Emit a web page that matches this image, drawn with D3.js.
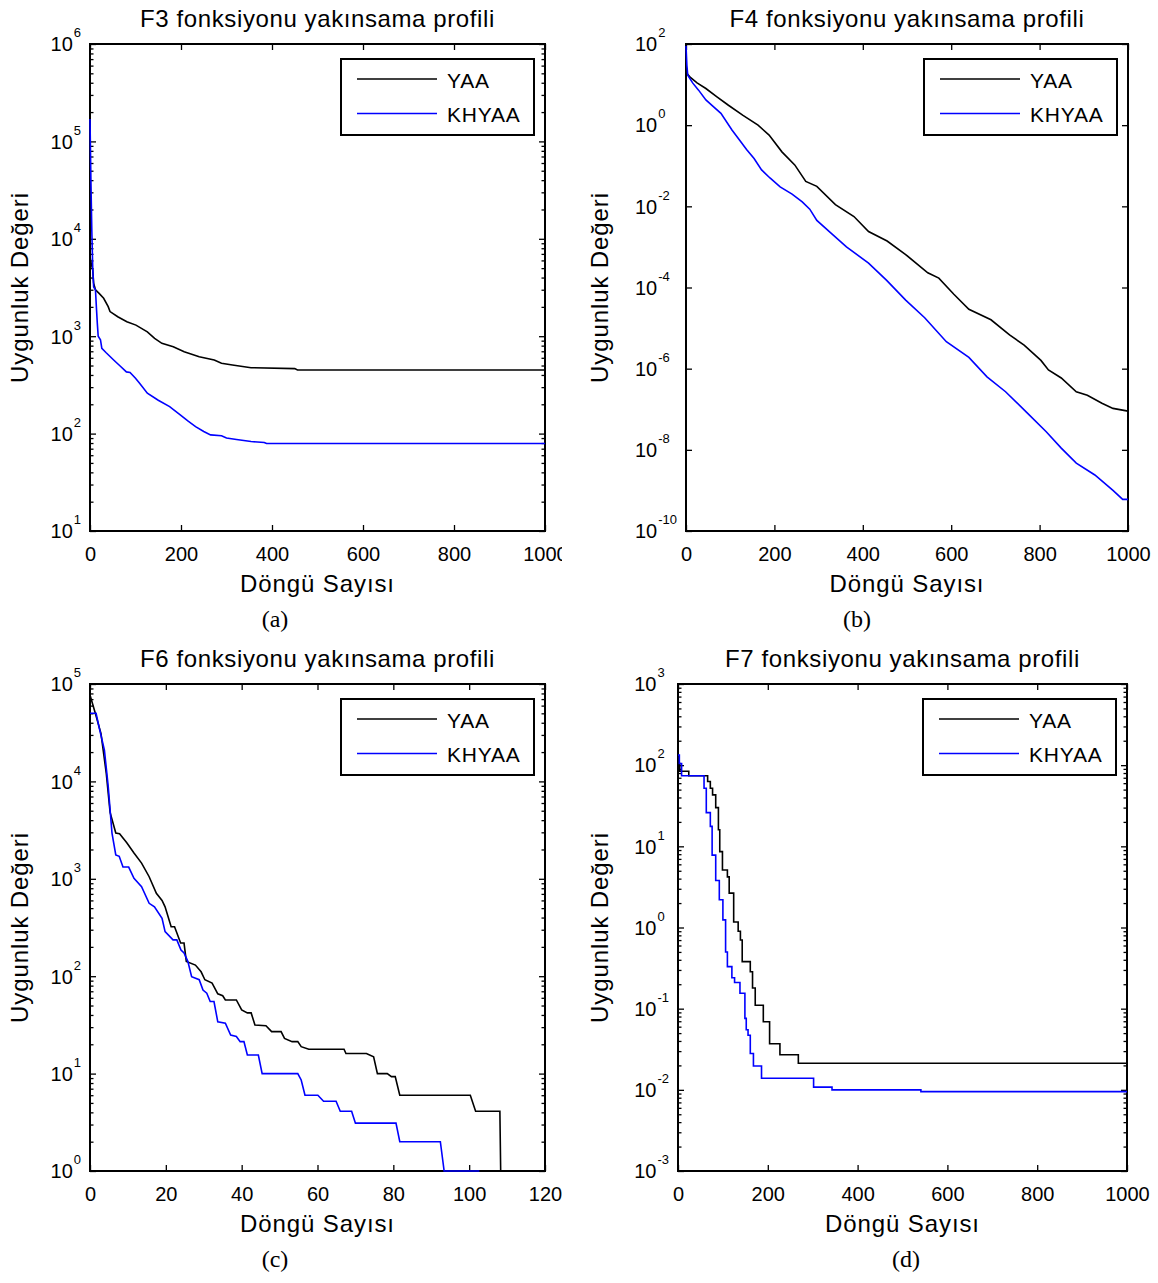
<!DOCTYPE html>
<html>
<head>
<meta charset="utf-8">
<script src="https://cdn.jsdelivr.net/npm/d3@7"></script>
<style>
  html, body { margin: 0; padding: 0; background: #fff; }
  svg { display: block; }
  text { font-family: "Liberation Sans", Arial, Helvetica, sans-serif; fill: #000; }
</style>
</head>
<body>
<svg id="chart" width="1158" height="1283"></svg>
<script>
// Convergence profiles: best fitness value per iteration for YAA and KHYAA

const seriesNames = ["YAA", "KHYAA"];
const seriesColors = ["#000000", "#0000ff"];

// x tick values
const iterTicks = [0, 200, 400, 600, 800, 1000];
const iterTicksF6 = [0, 20, 40, 60, 80, 100, 120];

// y tick exponents (labels are 10^e)
const f3Exps = [1, 2, 3, 4, 5, 6];
const f4Exps = [-10, -8, -6, -4, -2, 0, 2];
const f6Exps = [0, 1, 2, 3, 4, 5];
const f7Exps = [-3, -2, -1, 0, 1, 2, 3];

// F3: [iteration, fitness]
const f3Yaa = [[0, 6500], [3, 5500], [6, 4800], [8, 3500], [12, 3000], [20, 2750], [30, 2450],
  [40, 2010], [44, 1790], [61, 1585], [81, 1410], [101, 1300], [126, 1110], [142, 950],
  [158, 845], [183, 780], [207, 693], [240, 616], [273, 570], [289, 527], [313, 506],
  [354, 475], [450, 465], [456, 450], [1000, 450]];
const f3Khyaa = [[0, 170000], [2, 40000], [4, 12000], [6, 5000], [8, 3200], [12, 3000], [14, 2000],
  [16, 1370], [18, 1000], [23, 920], [26, 750], [35, 680], [52, 570], [65, 500], [80, 430],
  [88, 425], [100, 370], [109, 328], [126, 260], [150, 220], [175, 189], [199, 155], [215, 135],
  [232, 118], [250, 105], [265, 97], [289, 95], [300, 90], [322, 87], [354, 83], [383, 81],
  [388, 79], [1000, 79]];

// F4
const f4Yaa = [[0, 20], [10, 15], [25, 11], [45, 8], [70, 5], [96, 3.1], [129, 1.74], [163, 1.0],
  [188, 0.57], [217, 0.22], [246, 0.105], [271, 0.041], [296, 0.031], [338, 0.011], [380, 0.0056],
  [413, 0.0024], [455, 0.0014], [497, 6.5e-4], [547, 2.3e-4], [572, 1.7e-4], [606, 6.8e-5],
  [640, 2.9e-5], [690, 1.6e-5], [732, 6.8e-6], [765, 3.8e-6], [803, 1.6e-6], [820, 9.3e-7],
  [849, 5.9e-7], [883, 2.7e-7], [908, 2.2e-7], [941, 1.4e-7], [966, 1.05e-7], [1000, 9e-8]];
const f4Khyaa = [[0, 90], [2, 30], [4, 17], [15, 11], [28, 7.4], [45, 4.2], [60, 3.0], [79, 1.96],
  [104, 0.76], [121, 0.43], [137, 0.25], [154, 0.15], [171, 0.079], [190, 0.05], [213, 0.03],
  [240, 0.02], [263, 0.0129], [280, 0.0085], [296, 0.0045], [330, 0.0021], [363, 0.001],
  [413, 4e-4], [454, 1.5e-4], [497, 4.9e-5], [540, 1.8e-5], [589, 4.6e-6], [640, 1.9e-6],
  [681, 6.3e-7], [723, 2.7e-7], [773, 7.9e-8], [815, 2.8e-8], [849, 1.1e-8], [883, 4.7e-9],
  [925, 2.4e-9], [966, 1.0e-9], [988, 6.0e-10], [1000, 6.0e-10]];

// F6
const f6Yaa = [[0, 77000], [1.4, 50000], [2.9, 31000], [4.3, 12000], [5.3, 4800], [6.8, 2950],
  [7.8, 2900], [9.7, 2340], [11.6, 1840], [13.6, 1450], [15.6, 1050], [17.5, 710], [19, 600],
  [19.8, 515], [21.4, 322], [22.3, 322], [23.9, 219], [24.8, 219], [25.4, 142], [27.8, 130],
  [29.3, 111], [30.3, 92], [32.2, 85], [33.7, 66], [35, 63], [35.7, 57], [38.6, 57], [40, 45],
  [41.5, 42], [42.5, 42], [43.5, 31.6], [46.4, 31], [47.9, 27], [50.4, 27], [51.3, 23],
  [53.3, 21.3], [54.8, 21.3], [55.7, 18.9], [57.7, 17.8], [67, 17.8], [67.5, 16.1], [72.9, 16.1],
  [74.8, 14.9], [75.8, 10], [78.4, 10], [79.5, 9.3], [80.5, 9.3], [81.7, 6.0], [100.3, 6.0],
  [101.7, 4.1], [108.1, 4.1], [109, 0.01]];
const f6Khyaa = [[0, 50000], [1.6, 50000], [2.4, 36000], [3.8, 21000], [4.8, 8900], [5.8, 2950],
  [6.8, 1760], [7.7, 1700], [8.7, 1320], [10.2, 1320], [11.6, 1010], [13.6, 830], [15.6, 560],
  [17, 515], [19, 393], [19.8, 287], [21.9, 236], [22.9, 236], [24, 186], [24.8, 173],
  [25.8, 142], [26.8, 99], [28.8, 92], [29.8, 72], [30.8, 67], [31.7, 55], [32.7, 55], [33.7, 34],
  [35.7, 33], [37.1, 24.9], [38.6, 24], [39.6, 21.3], [40.6, 21.3], [41.5, 15.5], [44.4, 15.5],
  [45.4, 10], [54.8, 10], [55.7, 8.6], [56.7, 6.0], [60.1, 6.0], [61.6, 5.2], [64.9, 5.2],
  [66, 4.1], [69, 4.1], [70, 3.1], [80.7, 3.1], [81.7, 2.0], [92.4, 2.0], [93.4, 1.0], [102.7, 1.0]];

// F7 (value holds until the next listed iteration)
const f7Yaa = [[0, 105], [4, 84], [24, 74], [66, 63], [72, 52], [77, 43], [84, 30], [90, 16],
  [93, 8.6], [99, 5.1], [110, 4.2], [114, 2.65], [124, 1.17], [134, 0.9], [139, 0.70],
  [143, 0.38], [161, 0.285], [166, 0.18], [172, 0.11], [190, 0.069], [204, 0.037], [227, 0.027],
  [268, 0.0213], [1000, 0.0213]];
const f7Khyaa = [[0, 133], [3, 105], [8, 74], [58, 52], [63, 26], [72, 17.6], [76, 7.8], [84, 3.8],
  [92, 2.2], [100, 1.24], [106, 0.5], [110, 0.33], [120, 0.24], [126, 0.21], [138, 0.155],
  [149, 0.076], [152, 0.055], [156, 0.047], [161, 0.028], [168, 0.0197], [186, 0.0139],
  [302, 0.0108], [343, 0.0100], [541, 0.0095], [1000, 0.0095]];

const panels = [
  { key: "a", title: "F3 fonksiyonu yakınsama profili", caption: "(a)",
    series: [f3Yaa, f3Khyaa], xTicks: iterTicks, yExps: f3Exps, minor: true, step: false },
  { key: "b", title: "F4 fonksiyonu yakınsama profili", caption: "(b)",
    series: [f4Yaa, f4Khyaa], xTicks: iterTicks, yExps: f4Exps, minor: false, step: false },
  { key: "c", title: "F6 fonksiyonu yakınsama profili", caption: "(c)",
    series: [f6Yaa, f6Khyaa], xTicks: iterTicksF6, yExps: f6Exps, minor: true, step: false },
  { key: "d", title: "F7 fonksiyonu yakınsama profili", caption: "(d)",
    series: [f7Yaa, f7Khyaa], xTicks: iterTicks, yExps: f7Exps, minor: true, step: true }
];

// panel frames (plot box in page pixels) and label placement
const frames = {
  a: { l: 90,  t: 44,  r: 545,  b: 531,  capX: 275, yLabX: 28,  clipR: 562 },
  b: { l: 686, t: 44,  r: 1128, b: 531,  capX: 857, yLabX: 608, clipR: 1158 },
  c: { l: 90,  t: 684, r: 545,  b: 1171, capX: 275, yLabX: 28,  clipR: 580 },
  d: { l: 678, t: 684, r: 1127, b: 1171, capX: 906, yLabX: 608, clipR: 1158 }
};

const svg = d3.select("#chart");
svg.append("rect").attr("width", 1158).attr("height", 1283).attr("fill", "#fff");
const defs = svg.append("defs");

const TICK_FONT = 20, EXP_FONT = 13;

panels.forEach(p => {
  const f = frames[p.key];
  const panelClip = "panel-" + p.key;
  defs.append("clipPath").attr("id", panelClip)
    .append("rect").attr("x", f.l - 100).attr("y", f.t - 60)
    .attr("width", f.clipR - (f.l - 100)).attr("height", f.b - f.t + 170);

  const g = svg.append("g").attr("clip-path", `url(#${panelClip})`);

  const x = d3.scaleLinear().domain([0, d3.max(p.xTicks)]).range([f.l, f.r]);
  const yMin = d3.min(p.yExps), yMax = d3.max(p.yExps);
  const y = d3.scaleLog().domain([Math.pow(10, yMin), Math.pow(10, yMax)]).range([f.b, f.t]);

  const majorY = p.yExps.map(e => Math.pow(10, e));
  const minorY = [];
  if (p.minor) {
    for (let e = yMin; e < yMax; e++) {
      for (let k = 2; k <= 9; k++) minorY.push(k * Math.pow(10, e));
    }
  }

  // bottom axis with labels
  const xb = g.append("g").attr("transform", `translate(0,${f.b})`)
    .call(d3.axisBottom(x).tickValues(p.xTicks).tickFormat(d3.format("d"))
      .tickSizeInner(-6).tickSizeOuter(0).tickPadding(16));
  xb.selectAll("text").attr("font-size", TICK_FONT);
  // top axis ticks
  g.append("g").attr("transform", `translate(0,${f.t})`)
    .call(d3.axisTop(x).tickValues(p.xTicks).tickSizeInner(-6).tickSizeOuter(0).tickFormat(() => ""));

  // left axis with 10^e labels
  const yl = g.append("g").attr("transform", `translate(${f.l},0)`)
    .call(d3.axisLeft(y).tickValues(majorY).tickSizeInner(-6).tickSizeOuter(0).tickPadding(0)
      .tickFormat(d => String(Math.round(Math.log10(d)))));
  const texts = yl.selectAll(".tick text");
  texts.each(function () {
    const t = d3.select(this);
    const e = t.text();
    t.text(null).attr("dy", null).attr("text-anchor", "start");
    t.append("tspan").attr("class", "base").attr("font-size", TICK_FONT).attr("dy", "0.34em").text("10");
    t.append("tspan").attr("class", "exp").attr("font-size", EXP_FONT).attr("dx", 1).attr("dy", -14).text(e);
  });
  let maxExp = 0, baseW = 0;
  texts.each(function () {
    const t = d3.select(this);
    maxExp = Math.max(maxExp, t.select(".exp").node().getComputedTextLength());
    baseW = Math.max(baseW, t.select(".base").node().getComputedTextLength());
  });
  texts.attr("x", -(9 + maxExp + 1 + baseW));

  if (minorY.length) {
    g.append("g").attr("transform", `translate(${f.l},0)`)
      .call(d3.axisLeft(y).tickValues(minorY).tickSizeInner(-3.5).tickSizeOuter(0).tickFormat(() => ""));
    g.append("g").attr("transform", `translate(${f.r},0)`)
      .call(d3.axisRight(y).tickValues(minorY).tickSizeInner(-3.5).tickSizeOuter(0).tickFormat(() => ""));
  }
  g.append("g").attr("transform", `translate(${f.r},0)`)
    .call(d3.axisRight(y).tickValues(majorY).tickSizeInner(-6).tickSizeOuter(0).tickFormat(() => ""));

  g.selectAll(".domain").remove();
  g.selectAll(".tick line").attr("stroke", "#000").attr("stroke-width", 1.3);
  g.selectAll(".tick text").attr("fill", "#000");

  // plot frame
  g.append("rect").attr("x", f.l).attr("y", f.t).attr("width", f.r - f.l).attr("height", f.b - f.t)
    .attr("fill", "none").attr("stroke", "#000").attr("stroke-width", 2);

  // series lines
  const lineClip = "plot-" + p.key;
  defs.append("clipPath").attr("id", lineClip)
    .append("rect").attr("x", f.l - 1).attr("y", f.t - 1)
    .attr("width", f.r - f.l + 2).attr("height", f.b - f.t + 2);
  const line = d3.line().x(d => x(d[0])).y(d => y(d[1]))
    .curve(p.step ? d3.curveStepAfter : d3.curveLinear);
  const lg = g.append("g").attr("clip-path", `url(#${lineClip})`);
  p.series.forEach((s, i) => {
    lg.append("path").datum(s).attr("d", line)
      .attr("fill", "none").attr("stroke", seriesColors[i]).attr("stroke-width", 1.6)
      .attr("stroke-linejoin", "miter");
  });

  // legend
  const legW = 193, legH = 76;
  const leg = g.append("g").attr("transform", `translate(${f.r - 11 - legW},${f.t + 15})`);
  leg.append("rect").attr("width", legW).attr("height", legH)
    .attr("fill", "#fff").attr("stroke", "#000").attr("stroke-width", 2);
  seriesNames.forEach((n, i) => {
    const yy = 20 + i * 34.5;
    leg.append("line").attr("x1", 16).attr("x2", 96).attr("y1", yy).attr("y2", yy)
      .attr("stroke", seriesColors[i]).attr("stroke-width", 1.6);
    leg.append("text").attr("x", 106).attr("y", yy + 8.5).attr("font-size", 21)
      .attr("letter-spacing", 0.8).text(n);
  });

  // title, axis labels, caption
  const cx = (f.l + f.r) / 2;
  g.append("text").attr("x", cx).attr("y", f.t - 17).attr("text-anchor", "middle")
    .attr("font-size", 24).attr("letter-spacing", 0.6).text(p.title);
  g.append("text").attr("x", cx).attr("y", f.b + 61).attr("text-anchor", "middle")
    .attr("font-size", 24).attr("letter-spacing", 0.9).text("Döngü Sayısı");
  g.append("text").attr("transform", `translate(${f.yLabX},${(f.t + f.b) / 2}) rotate(-90)`)
    .attr("text-anchor", "middle").attr("font-size", 24).attr("letter-spacing", 0.9)
    .text("Uygunluk Değeri");
  svg.append("text").attr("x", f.capX).attr("y", f.b + 96).attr("text-anchor", "middle")
    .attr("font-size", 24).style("font-family", "'Liberation Serif', 'Times New Roman', serif")
    .text(p.caption);
});
</script>
</body>
</html>
